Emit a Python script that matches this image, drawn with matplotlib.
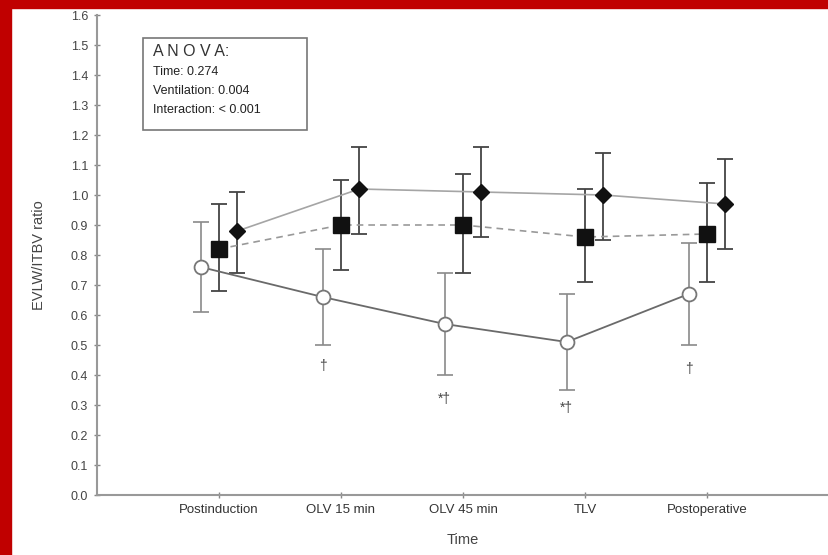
import matplotlib
matplotlib.use("Agg")
import matplotlib.pyplot as plt
from matplotlib.patches import Rectangle
import numpy as np

plt.rcParams['font.family'] = ['Liberation Sans', 'DejaVu Sans']

categories = ["Postinduction", "OLV 15 min", "OLV 45 min", "TLV", "Postoperative"]

# open circles (solid line)
circ_mean = [0.76, 0.66, 0.57, 0.51, 0.67]
circ_lo = [0.61, 0.50, 0.40, 0.35, 0.50]
circ_hi = [0.91, 0.82, 0.74, 0.67, 0.84]

# filled squares (dashed line)
sq_mean = [0.82, 0.90, 0.90, 0.86, 0.87]
sq_lo = [0.68, 0.75, 0.74, 0.71, 0.71]
sq_hi = [0.97, 1.05, 1.07, 1.02, 1.04]

# filled diamonds (solid line)
dia_mean = [0.88, 1.02, 1.01, 1.00, 0.97]
dia_lo = [0.74, 0.87, 0.86, 0.85, 0.82]
dia_hi = [1.01, 1.16, 1.16, 1.14, 1.12]

# significance marks under open circles
sig_labels = ["", "\u2020", "*\u2020", "*\u2020", "\u2020"]
sig_y = [None, 0.43, 0.32, 0.29, 0.42]

anova_lines = ["Time: 0.274", "Ventilation: 0.004", "Interaction: < 0.001"]

fig = plt.figure(figsize=(8.29, 5.55), dpi=100)
ax = fig.add_axes([97/829, 60/555, 1 - 97/829, 480/555])

x = np.arange(1, len(categories) + 1)
off = 0.15

def err(mean, lo, hi):
    m = np.array(mean); return [m - np.array(lo), np.array(hi) - m]

ax.errorbar(x - off, circ_mean, yerr=err(circ_mean, circ_lo, circ_hi), fmt='none',
            ecolor="#8a8a8a", elinewidth=1.2, capsize=6, capthick=1.2, zorder=2)
ax.plot(x - off, circ_mean, '-', color="#6a6a6a", lw=1.3, zorder=3)
ax.plot(x - off, circ_mean, 'o', ms=10, mfc='white', mec="#777777", mew=1.3, zorder=4)

ax.errorbar(x, sq_mean, yerr=err(sq_mean, sq_lo, sq_hi), fmt='none',
            ecolor="#444444", elinewidth=1.3, capsize=6, capthick=1.3, zorder=2)
ax.plot(x, sq_mean, '--', color="#999999", lw=1.2, dashes=(4, 3), zorder=3)
ax.plot(x, sq_mean, 's', ms=12, color="#111111", zorder=4)

ax.errorbar(x + off, dia_mean, yerr=err(dia_mean, dia_lo, dia_hi), fmt='none',
            ecolor="#444444", elinewidth=1.3, capsize=6, capthick=1.3, zorder=2)
ax.plot(x + off, dia_mean, '-', color="#a5a5a5", lw=1.2, zorder=3)
ax.plot(x + off, dia_mean, 'D', ms=8, color="#111111", zorder=4)

for xi, lab, yy in zip(x - off, sig_labels, sig_y):
    if lab:
        ax.text(xi, yy, lab, ha='center', va='center', fontsize=10, color="#444444")

ax.set_xlim(0, 6)
ax.set_ylim(0, 1.6)
ax.set_xticks(x)
ax.set_xticklabels(categories, fontsize=9.5, color="#333333")
ax.set_yticks(np.round(np.arange(0, 1.61, 0.1), 1))
ax.set_yticklabels([f"{v:.1f}" for v in np.arange(0, 1.61, 0.1)], fontsize=9, color="#444444")
ax.tick_params(axis='both', direction='inout', length=5, width=1, color="#888888", pad=4)
for s in ['top', 'right']:
    ax.spines[s].set_visible(False)
for s in ['left', 'bottom']:
    ax.spines[s].set_color("#999999")
    ax.spines[s].set_linewidth(1.5)
ax.set_ylabel("EVLW/ITBV ratio", fontsize=10.5, color="#444444", labelpad=18)
ax.set_xlabel("Time", fontsize=10.5, color="#444444", labelpad=12)

# ANOVA box
box = Rectangle((143/829, (555-130)/555), (307-143)/829, 92/555, transform=fig.transFigure,
                fill=False, ec="#777777", lw=1.2)
fig.patches.append(box)
fig.text(153/829, (555-52)/555, "A N O V A:", fontsize=11.5, color="#333333", va='center')
for i, t in enumerate(anova_lines):
    fig.text(153/829, (555-(72 + i*19))/555, t, fontsize=9, color="#222222", va='center')

# red frame strips
fig.patches.append(Rectangle((0, 1 - 8/555), 1, 8/555, transform=fig.transFigure,
                             color="#c00000", zorder=10))
fig.patches.append(Rectangle((0, 0), 11/829, 1, transform=fig.transFigure,
                             color="#c00000", zorder=10))

fig.savefig("out.png", dpi=100)
